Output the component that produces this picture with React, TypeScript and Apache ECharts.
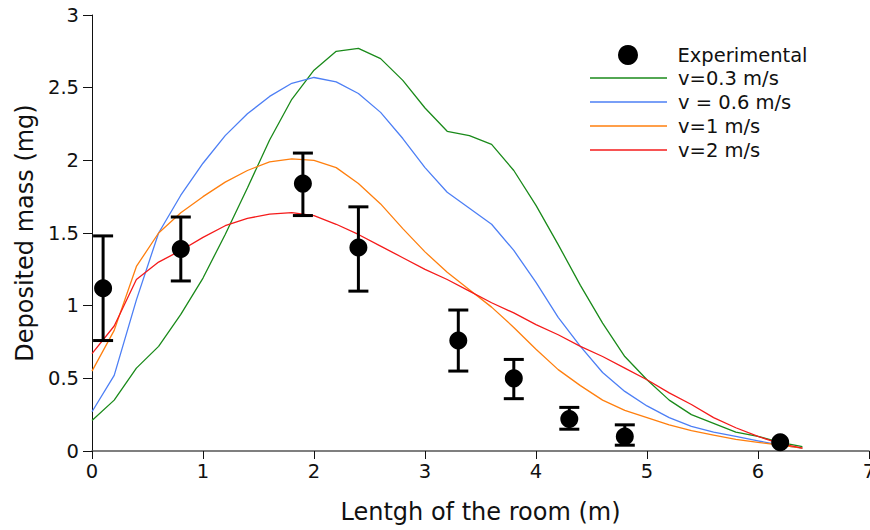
import React, { useEffect, useRef } from "react";
import * as echarts from "echarts";

// Positions along the room (m) where the simulated profiles are sampled
const xs = [0, 0.2, 0.4, 0.6, 0.8, 1.0, 1.2, 1.4, 1.6, 1.8, 2.0, 2.2, 2.4, 2.6, 2.8, 3.0, 3.2,
  3.4, 3.6, 3.8, 4.0, 4.2, 4.4, 4.6, 4.8, 5.0, 5.2, 5.4, 5.6, 5.8, 6.0, 6.2, 6.4];

// Simulated deposited mass (mg) for each inlet velocity
const v03 = [0.21, 0.35, 0.57, 0.72, 0.94, 1.19, 1.49, 1.81, 2.14, 2.42, 2.62, 2.75, 2.77, 2.70,
  2.55, 2.36, 2.20, 2.17, 2.11, 1.93, 1.69, 1.42, 1.14, 0.88, 0.65, 0.49, 0.35, 0.25, 0.19, 0.13,
  0.10, 0.06, 0.03];
const v06 = [0.27, 0.52, 1.04, 1.50, 1.76, 1.98, 2.17, 2.32, 2.44, 2.53, 2.57, 2.54, 2.46, 2.33,
  2.15, 1.95, 1.78, 1.67, 1.56, 1.38, 1.16, 0.92, 0.72, 0.54, 0.41, 0.31, 0.23, 0.17, 0.13, 0.10,
  0.07, 0.04, 0.02];
const v1 = [0.55, 0.83, 1.27, 1.50, 1.64, 1.75, 1.85, 1.93, 1.99, 2.01, 2.00, 1.95, 1.84, 1.70,
  1.53, 1.37, 1.23, 1.11, 0.99, 0.85, 0.70, 0.56, 0.45, 0.35, 0.28, 0.23, 0.18, 0.14, 0.11, 0.08,
  0.06, 0.04, 0.02];
const v2 = [0.67, 0.86, 1.18, 1.30, 1.38, 1.47, 1.55, 1.60, 1.63, 1.64, 1.62, 1.56, 1.49, 1.41,
  1.33, 1.25, 1.18, 1.10, 1.02, 0.95, 0.87, 0.80, 0.72, 0.65, 0.57, 0.49, 0.40, 0.32, 0.23, 0.16,
  0.10, 0.05, 0.02];

// Measurements with their error ranges
const expX = [0.1, 0.8, 1.9, 2.4, 3.3, 3.8, 4.3, 4.8, 6.2];
const expY = [1.12, 1.39, 1.84, 1.40, 0.76, 0.50, 0.22, 0.10, 0.06];
const expLow = [0.76, 1.17, 1.62, 1.10, 0.55, 0.36, 0.15, 0.04, 0.06];
const expHigh = [1.48, 1.61, 2.05, 1.68, 0.97, 0.63, 0.30, 0.18, 0.06];

const lineNames = ["v=0.3 m/s", "v = 0.6 m/s", "v=1 m/s", "v=2 m/s"];

const FONT = "DejaVu Sans";
const TICK_SIZE = 19.5;
const TITLE_SIZE = 24;

const pairs = (ys: number[]) => xs.map((x, i) => [x, ys[i]]);

export default function App() {
  const ref = useRef<HTMLDivElement>(null);

  useEffect(() => {
    if (!ref.current) return;
    const chart = echarts.init(ref.current, undefined, { renderer: "svg" });

    const lineSeries = (name: string, ys: number[], color: string) => ({
      name,
      type: "line",
      data: pairs(ys),
      showSymbol: false,
      symbol: "none",
      lineStyle: { color, width: 1.3 },
      itemStyle: { color },
      z: 2,
    });

    const legendText = {
      fontFamily: FONT,
      fontSize: TICK_SIZE,
      color: "#111",
      lineHeight: 24,
      padding: [0, 0, 0, 6],
    };

    chart.setOption({
      animation: false,
      textStyle: { fontFamily: FONT },
      grid: { left: 92, right: 1, top: 15, bottom: 79, containLabel: false, outerBoundsMode: "none" },
      legend: [
        {
          orient: "vertical",
          left: 618,
          top: 43,
          padding: 0,
          itemWidth: 77,
          itemHeight: 20,
          symbolKeepAspect: true,
          data: [{ name: "Experimental", icon: "circle" }],
          textStyle: legendText,
        },
        {
          orient: "vertical",
          left: 590,
          top: 66,
          padding: 0,
          itemWidth: 77,
          itemHeight: 2,
          itemGap: 0,
          icon: "path://M0,0 H100 V2 H0 Z",
          data: lineNames,
          textStyle: legendText,
        },
      ],
      xAxis: {
        type: "value",
        min: 0,
        max: 7,
        interval: 1,
        name: "Lentgh of the room (m)",
        nameLocation: "middle",
        nameGap: 49,
        nameTextStyle: { fontFamily: FONT, fontSize: TITLE_SIZE, color: "#111" },
        axisLine: { onZero: false, lineStyle: { color: "#555", width: 1.5 } },
        axisTick: { show: true, inside: false, length: 8, lineStyle: { color: "#111", width: 1 } },
        axisLabel: { fontFamily: FONT, fontSize: TICK_SIZE, color: "#111", margin: 10 },
        splitLine: { show: false },
      },
      yAxis: {
        type: "value",
        min: 0,
        max: 3,
        interval: 0.5,
        name: "Deposited mass (mg)",
        nameLocation: "middle",
        nameGap: 53,
        nameTextStyle: { fontFamily: FONT, fontSize: TITLE_SIZE, color: "#111" },
        axisLine: { show: true, lineStyle: { color: "#111", width: 1 } },
        axisTick: { show: true, inside: false, length: 9, lineStyle: { color: "#111", width: 1 } },
        axisLabel: { fontFamily: FONT, fontSize: TICK_SIZE, color: "#111", margin: 13 },
        splitLine: { show: false },
      },
      series: [
        lineSeries(lineNames[0], v03, "#1a8a1a"),
        lineSeries(lineNames[1], v06, "#4d7ff5"),
        lineSeries(lineNames[2], v1, "#ff7f0e"),
        lineSeries(lineNames[3], v2, "#f51b1b"),
        {
          name: "errors",
          type: "custom",
          z: 3,
          data: expX.map((x, i) => [x, expLow[i], expHigh[i]]),
          renderItem: (params: any, api: any) => {
            const x = api.value(0);
            const lo = api.coord([x, api.value(1)]);
            const hi = api.coord([x, api.value(2)]);
            if (Math.abs(lo[1] - hi[1]) < 1) return { type: "group", children: [] };
            const half = 10;
            const style = { stroke: "#000", lineWidth: 3 };
            return {
              type: "group",
              children: [
                { type: "line", shape: { x1: lo[0], y1: lo[1], x2: hi[0], y2: hi[1] }, style },
                { type: "line", shape: { x1: lo[0] - half, y1: lo[1], x2: lo[0] + half, y2: lo[1] }, style },
                { type: "line", shape: { x1: hi[0] - half, y1: hi[1], x2: hi[0] + half, y2: hi[1] }, style },
              ],
            };
          },
        },
        {
          name: "Experimental",
          type: "scatter",
          z: 4,
          symbol: "circle",
          symbolSize: 18,
          itemStyle: { color: "#000", opacity: 1 },
          data: expX.map((x, i) => [x, expY[i]]),
        },
      ],
    });

    return () => chart.dispose();
  }, []);

  return <div ref={ref} style={{ width: 870, height: 530, position: "absolute", left: 0, top: 0 }} />;
}
